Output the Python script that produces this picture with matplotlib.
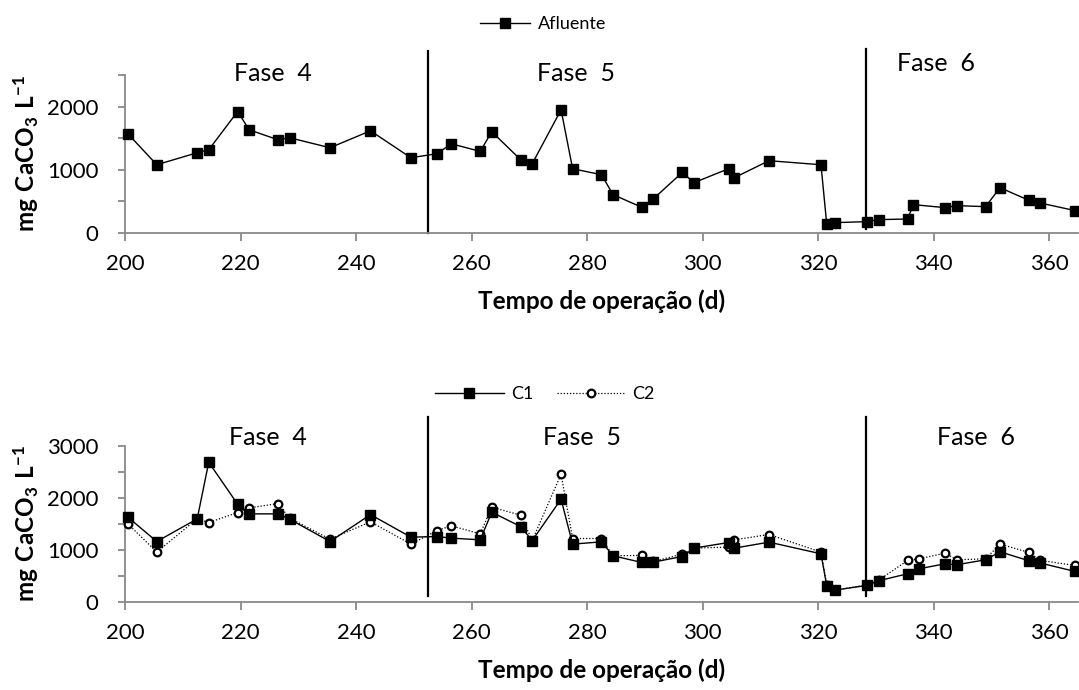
import matplotlib
matplotlib.use("Agg")
import matplotlib.pyplot as plt
from matplotlib.ticker import MultipleLocator

plt.rcParams['font.family'] = ['Lato', 'DejaVu Sans']
plt.rcParams['mathtext.fontset'] = 'custom'
plt.rcParams['mathtext.rm'] = 'Lato'
plt.rcParams['mathtext.bf'] = 'Lato:bold'

# data
dias_afl = [200.5, 205.5, 212.5, 214.5, 219.5, 221.5, 226.5, 228.5, 235.5, 242.5, 249.5,
            254, 256.5, 261.5, 263.5, 268.5, 270.5, 275.5, 277.5, 282.5, 284.5, 289.5,
            291.5, 296.5, 298.5, 304.5, 305.5, 311.5, 320.5, 321.5, 323, 328.5, 330.5,
            335.5, 336.5, 342, 344, 349, 351.5, 356.5, 358.5, 364.5]
afluente = [1570, 1080, 1270, 1317, 1922, 1633, 1475, 1507, 1349, 1617, 1191,
            1254, 1412, 1291, 1602, 1160, 1096, 1949, 1017, 922, 607, 406,
            543, 959, 796, 1017, 875, 1144, 1080, 137, 164, 180, 212,
            221, 449, 401, 433, 417, 717, 517, 474, 354]

dias_col = [200.5, 205.5, 212.5, 214.5, 219.5, 221.5, 226.5, 228.5, 235.5, 242.5, 249.5,
            254, 256.5, 261.5, 263.5, 268.5, 270.5, 275.5, 277.5, 282.5, 284.5, 289.5,
            291.5, 296.5, 298.5, 304.5, 305.5, 311.5, 320.5, 321.5, 323, 328.5, 330.5,
            335.5, 337.5, 342, 344, 349, 351.5, 356.5, 358.5, 364.5]
c1 = [1631, 1163, 1599, 2687, 1881, 1695, 1695, 1593, 1163, 1681, 1247,
      1259, 1228, 1196, 1727, 1451, 1182, 1977, 1113, 1157, 889, 760,
      768, 875, 1036, 1144, 1036, 1151, 927, 313, 230, 319, 409,
      543, 639, 735, 716, 812, 965, 793, 749, 587]
c2 = [1503, 960, 1600, 1528, 1720, 1810, 1893, 1612, 1209, 1541, 1113,
      1374, 1464, 1311, 1823, 1670, 1182, 2457, 1221, 1221, 889, 895,
      780, 921, 1036, 1056, 1196, 1298, 960, 320, 230, 330, 420,
      799, 831, 940, 812, 830, 1113, 953, 799, 703]

limites_fase = [252.5, 328.3]
fases = ['Fase  4', 'Fase  5', 'Fase  6']

W, H = 1079, 690
fig = plt.figure(figsize=(W / 100, H / 100), dpi=100)

def px_axes(left, top, right, bottom):
    return fig.add_axes([left / W, 1 - bottom / H, (right - left) / W, (bottom - top) / H])

ax1 = px_axes(125, 75, 1078, 233)
ax2 = px_axes(125, 446, 1078, 602)

gray = '#898989'
ylab = r'$\mathbf{mg\ CaCO_3\ L^{-1}}$'

def style(ax, ymax):
    ax.set_xlim(200, 365)
    ax.set_ylim(0, ymax)
    ax.xaxis.set_major_locator(MultipleLocator(20))
    ax.yaxis.set_major_locator(MultipleLocator(1000))
    ax.yaxis.set_minor_locator(MultipleLocator(500))
    for s in ['top', 'right']:
        ax.spines[s].set_visible(False)
    for s in ['left', 'bottom']:
        ax.spines[s].set_color(gray)
        ax.spines[s].set_linewidth(1.3)
    ax.tick_params(axis='x', length=6, width=1.3, color=gray, labelsize=16, pad=9)
    ax.tick_params(axis='y', which='both', length=5, width=1.3, color=gray, labelsize=16, pad=14)
    ax.set_xlabel('Tempo de operação (d)', fontsize=17.5, fontweight='bold', labelpad=11)
    ax.set_ylabel(ylab, fontsize=17.5)
    ax.yaxis.set_label_coords(-0.088, 0.5)
    ax.patch.set_alpha(0)

# grafico de cima - afluente
ax1.plot(dias_afl, afluente, color='black', lw=1, marker='s', ms=6.5, clip_on=False,
         label='Afluente', zorder=3)
style(ax1, 2500)
ax1.plot([limites_fase[0]] * 2, [0, 2886], color='black', lw=1.6, clip_on=False)
ax1.plot([limites_fase[1]] * 2, [58, 2918], color='black', lw=1.6, clip_on=False)
ax1.text(225.6, 2523, fases[0], fontsize=18, ha='center', va='center', clip_on=False)
ax1.text(278.1, 2523, fases[1], fontsize=18, ha='center', va='center', clip_on=False)
ax1.text(340.4, 2676, fases[2], fontsize=18, ha='center', va='center', clip_on=False)
fig.legend(handles=ax1.get_lines()[:1], loc='center', bbox_to_anchor=(543 / W, 1 - 24 / H),
           frameon=False, fontsize=13, handlelength=2.8, handletextpad=0.4)

# grafico de baixo - C1 e C2
l2, = ax2.plot(dias_col, c2, color='black', lw=0.9, ls=(0, (1, 1.5)), marker='o', ms=5.5,
               mfc='white', mec='black', mew=1.6, clip_on=False, label='C2', zorder=3)
l1, = ax2.plot(dias_col, c1, color='black', lw=1, marker='s', ms=6.5, clip_on=False,
               label='C1', zorder=4)
style(ax2, 3000)
ax2.plot([limites_fase[0]] * 2, [107, 3562], color='black', lw=1.6, clip_on=False)
ax2.plot([limites_fase[1]] * 2, [107, 3562], color='black', lw=1.6, clip_on=False)
ax2.text(224.7, 3159, fases[0], fontsize=18, ha='center', va='center', clip_on=False)
ax2.text(279.2, 3159, fases[1], fontsize=18, ha='center', va='center', clip_on=False)
ax2.text(347.4, 3159, fases[2], fontsize=18, ha='center', va='center', clip_on=False)
fig.legend(handles=[l1, l2], loc='center', bbox_to_anchor=(545 / W, 1 - 394 / H), ncol=2,
           frameon=False, fontsize=13, handlelength=3.8, handletextpad=0.4, columnspacing=1.3)

fig.savefig('out.png', dpi=100)
